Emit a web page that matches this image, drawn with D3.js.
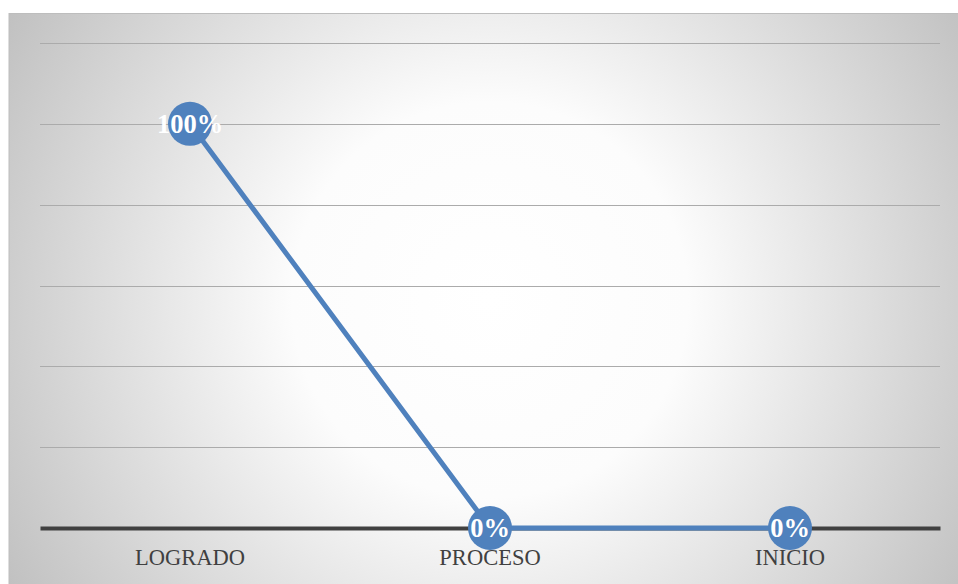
<!DOCTYPE html>
<html>
<head>
<meta charset="utf-8">
<script src="https://cdn.jsdelivr.net/npm/d3@7"></script>
<style>
  body { margin: 0; background: #fff; }
</style>
</head>
<body>
<svg id="chart" width="958" height="584"></svg>
<script>
let categories = ["LOGRADO", "PROCESO", "INICIO"];
let values = [1.0, 0.0, 0.0];
let yTicks = [0, 0.2, 0.4, 0.6, 0.8, 1.0, 1.2];

let svg = d3.select("#chart"),
    margin = {top: 43, right: 18, bottom: 56, left: 40},
    width = +svg.attr("width") - margin.left - margin.right,
    height = +svg.attr("height") - margin.top - margin.bottom;

// background: radial grey -> white
let defs = svg.append("defs");
let grad = defs.append("radialGradient")
    .attr("id", "bg")
    .attr("gradientUnits", "userSpaceOnUse")
    .attr("cx", 490).attr("cy", 300).attr("r", 600);
grad.append("stop").attr("offset", 0).attr("stop-color", "#ffffff");
grad.append("stop").attr("offset", 0.33).attr("stop-color", "#fcfcfc");
grad.append("stop").attr("offset", 1).attr("stop-color", "#bababa");

svg.append("rect")
    .attr("x", 9).attr("y", 13.5)
    .attr("width", 960).attr("height", 580)
    .attr("fill", "url(#bg)")
    .attr("stroke", "#bdbdbd")
    .attr("stroke-width", 1);

let x = d3.scaleBand().domain(categories).range([0, width]);
let y = d3.scaleLinear().domain([0, 1.2]).range([height, 0]);

let g = svg.append("g")
    .attr("transform", "translate(" + margin.left + "," + margin.top + ")");

// gridlines
g.append("g")
    .selectAll("line")
    .data(yTicks.filter(d => d > 0))
    .join("line")
    .attr("x1", 0).attr("x2", width)
    .attr("y1", d => Math.round(y(d)) + 0.5)
    .attr("y2", d => Math.round(y(d)) + 0.5)
    .attr("stroke", "#ababab")
    .attr("stroke-width", 1.2);

// x axis
let xAxis = g.append("g")
    .attr("transform", "translate(0," + y(0) + ")")
    .call(d3.axisBottom(x).tickSize(0).tickPadding(21));
xAxis.select(".domain")
    .attr("stroke", "#404040")
    .attr("stroke-width", 4);
xAxis.selectAll("text")
    .attr("fill", "#404040")
    .style("font-family", "'Liberation Serif', 'DejaVu Serif', serif")
    .style("font-size", "22.5px");

// line
let line = d3.line()
    .x((d, i) => x(categories[i]) + x.bandwidth() / 2)
    .y(d => y(d));

g.append("path")
    .datum(values)
    .attr("fill", "none")
    .attr("stroke", "#4f81bd")
    .attr("stroke-width", 5)
    .attr("stroke-linejoin", "round")
    .attr("d", line);

// markers with labels
let pts = g.selectAll(".pt")
    .data(values)
    .join("g")
    .attr("class", "pt")
    .attr("transform", (d, i) => "translate(" + (x(categories[i]) + x.bandwidth() / 2) + "," + y(d) + ")");

pts.append("circle")
    .attr("r", 22)
    .attr("fill", "#4f81bd");

pts.append("text")
    .attr("text-anchor", "middle")
    .attr("y", 9)
    .attr("fill", "#ffffff")
    .style("font-family", "'Liberation Serif', 'DejaVu Serif', serif")
    .style("font-weight", "bold")
    .style("font-size", "26.5px")
    .text(d => d3.format(".0%")(d));
</script>
</body>
</html>
